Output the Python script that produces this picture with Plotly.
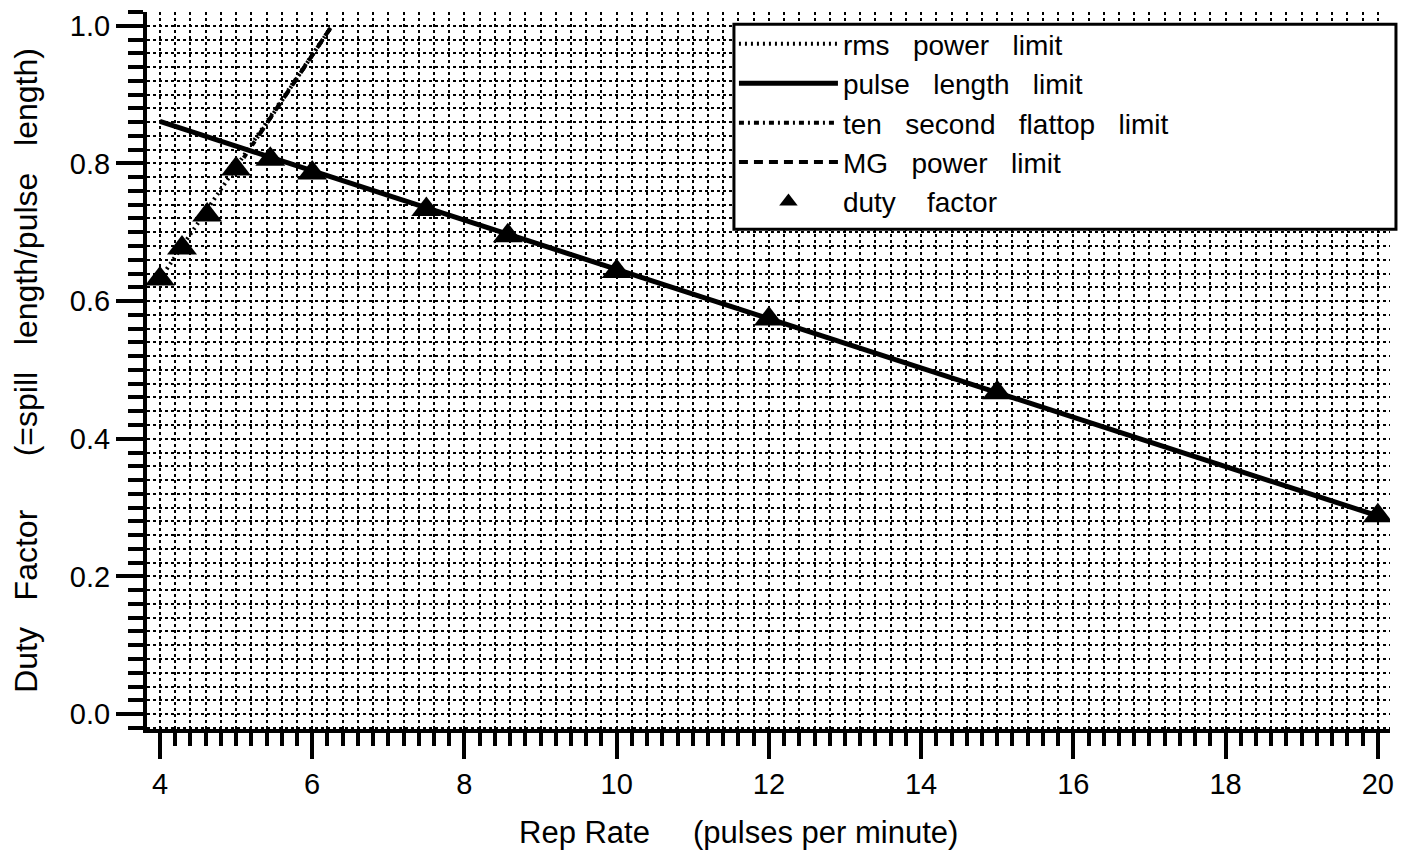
import plotly.graph_objects as go

# Duty factor data points (rep rate in pulses/minute)
duty_x = [4, 4.29, 4.62, 5, 5.45, 6, 7.5, 8.57, 10, 12, 15, 20]
duty_y = [0.632, 0.677, 0.725, 0.792, 0.806, 0.786, 0.733, 0.695, 0.643, 0.574, 0.467, 0.288]

# Limit curves
pulse_x = [4, 20]
pulse_y = [0.861, 0.288]

rms_x = [4, 6.26]
rms_y = [0.632, 1.0]

flattop_x = [5.1, 6.26]
flattop_y = [0.808, 1.0]

mg_x = [5.3, 6.26]
mg_y = [0.841, 1.0]

x_ticks = [4, 6, 8, 10, 12, 14, 16, 18, 20]
y_ticks = [0.0, 0.2, 0.4, 0.6, 0.8, 1.0]

NB = "\u00a0"
FONT = "Liberation Sans, Arial, Helvetica, sans-serif"


def sp(n):
    return NB * n


fig = go.Figure()
fig.add_trace(go.Scatter(x=rms_x, y=rms_y, mode="lines", name=f"rms{sp(3)}power{sp(3)}limit",
                         line=dict(color="black", width=4, dash="2px,4px"), legendgroup="a"))
fig.add_trace(go.Scatter(x=pulse_x, y=pulse_y, mode="lines", name=f"pulse{sp(3)}length{sp(3)}limit",
                         line=dict(color="black", width=5), legendgroup="b"))
fig.add_trace(go.Scatter(x=flattop_x, y=flattop_y, mode="lines",
                         name=f"ten{sp(3)}second{sp(3)}flattop{sp(3)}limit",
                         line=dict(color="black", width=4, dash="5px,4px,2px,4px"), legendgroup="c"))
fig.add_trace(go.Scatter(x=mg_x, y=mg_y, mode="lines", name=f"MG{sp(3)}power{sp(3)}limit",
                         line=dict(color="black", width=4, dash="9px,6px"), legendgroup="d"))
fig.add_trace(go.Scatter(x=duty_x, y=duty_y, mode="markers", name=f"duty{sp(4)}factor",
                         marker=dict(symbol="triangle-up", size=26, color="black"), legendgroup="e"))

grid_dash = "3px,3px"
fig.update_xaxes(
    range=[3.83, 20.16], tickvals=x_ticks, showline=True, linecolor="black", linewidth=4,
    ticks="outside", ticklen=26, tickwidth=4, tickcolor="black",
    showgrid=True, gridcolor="black", gridwidth=2, griddash=grid_dash, zeroline=False,
    minor=dict(dtick=0.2, ticks="outside", ticklen=13, tickwidth=4, tickcolor="black",
               showgrid=True, gridcolor="black", gridwidth=2, griddash=grid_dash),
    tickfont=dict(size=29, color="black", family=FONT),
)
fig.update_yaxes(
    range=[-0.0217, 1.02], tickvals=y_ticks, tickformat=".1f", showline=True, linecolor="black", linewidth=4,
    ticks="outside", ticklen=27, tickwidth=4, tickcolor="black", ticklabeloverflow="allow",
    showgrid=True, gridcolor="black", gridwidth=2, griddash=grid_dash, zeroline=False,
    minor=dict(dtick=0.02, ticks="outside", ticklen=15, tickwidth=4, tickcolor="black",
               showgrid=True, gridcolor="black", gridwidth=2, griddash=grid_dash),
    tickfont=dict(size=29, color="black", family=FONT),
    title=dict(text=f"Duty{sp(3)}Factor{sp(6)}(=spill{sp(3)}length/pulse{sp(3)}length)",
               font=dict(size=32, color="black", family=FONT), standoff=31),
)

# X axis title as annotation (centred like the reference, left of plot centre)
fig.add_annotation(text=f"Rep{sp(1)}Rate{sp(5)}(pulses{sp(1)}per{sp(1)}minute)",
                   xref="paper", yref="paper", x=0.4755, y=0, xanchor="center", yanchor="middle",
                   yshift=-103, showarrow=False, font=dict(size=31, color="black", family=FONT))

# Legend frame (paper coordinates relative to the plot area)
fig.add_shape(type="rect", xref="paper", yref="paper", x0=0.4722, x1=1.0048, y0=0.697, y1=0.983,
              fillcolor="white", line=dict(color="black", width=3), layer="above")

fig.update_layout(
    width=1414, height=855,
    margin=dict(l=139, r=32, t=2, b=134),
    plot_bgcolor="white", paper_bgcolor="white",
    font=dict(family=FONT, color="black"),
    legend=dict(x=0.4722, y=0.99, xanchor="left", yanchor="top",
                bgcolor="rgba(0,0,0,0)", borderwidth=0,
                font=dict(size=28, color="black", family=FONT),
                traceorder="grouped", tracegroupgap=0, itemwidth=99),
    showlegend=True,
)

fig.write_html("out.html")
